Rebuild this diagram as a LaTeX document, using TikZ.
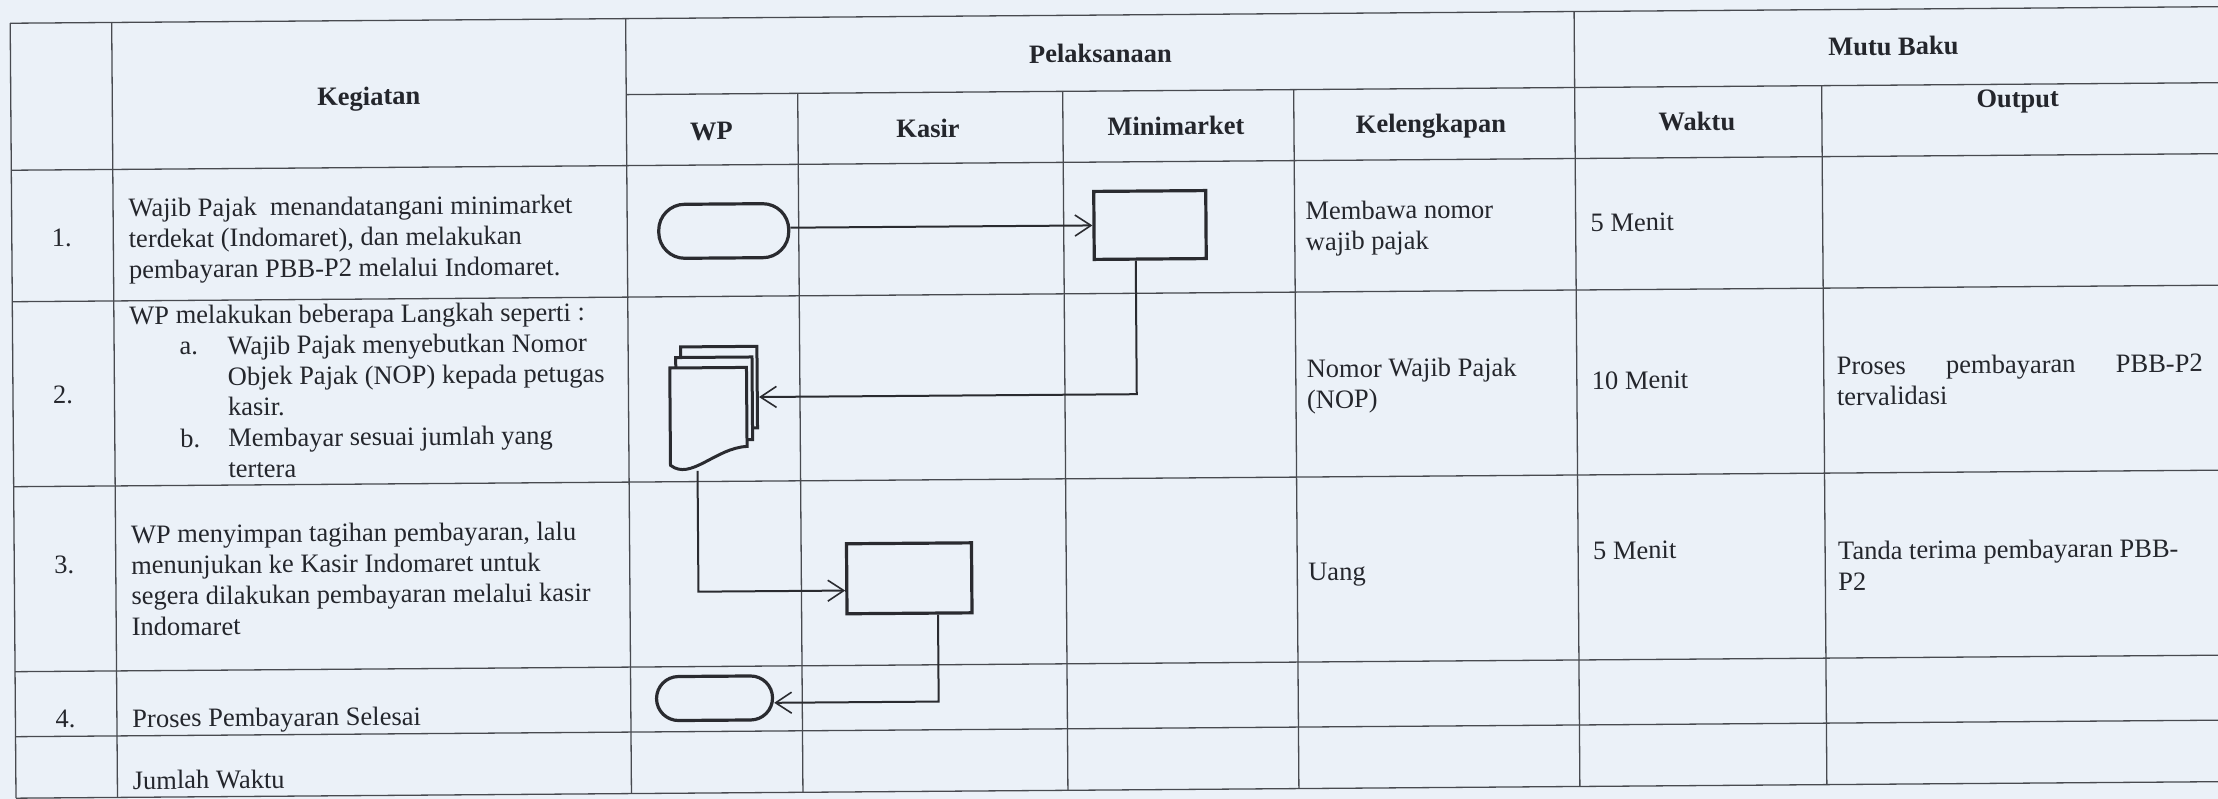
\documentclass[tikz,border=0pt]{standalone}
\usepackage{fontspec}
\setmainfont{Liberation Serif}
\usetikzlibrary{arrows.meta,calc}
\definecolor{paper}{RGB}{235,241,248}
\definecolor{ink}{RGB}{36,38,44}
\definecolor{gridc}{RGB}{72,74,80}
\definecolor{strokec}{RGB}{42,43,48}
\newcommand\bodyfont{\fontsize{26.5pt}{30.8pt}\selectfont}
\newcommand\cell[1]{\parbox[t]{620pt}{\raggedright #1}}
\begin{document}
\begin{tikzpicture}[x=1pt,y=-1pt,
  gridline/.style={draw=gridc,line width=1.3pt},
  txt/.style={anchor=base west,inner sep=0pt,outer sep=0pt,font=\bodyfont,text=ink},
  num/.style={anchor=base,inner sep=0pt,font=\bodyfont,text=ink},
  hdr/.style={anchor=base,inner sep=0pt,font=\bodyfont\bfseries,text=ink},
  term/.style={draw=strokec,line width=3.2pt,inner sep=0pt},
  proc/.style={draw=strokec,line width=3.2pt,inner sep=0pt},
  docshape/.style={draw=strokec,fill=paper,line width=3pt,line join=miter},
  flow/.style={draw=strokec,line width=2pt,-{Straight Barb[length=16pt,width=21pt,line width=1.6pt]}}]
\useasboundingbox (0,0) rectangle (2218,799);
\fill[paper] (0,0) rectangle (2218,799);
\begin{scope}
\clip (0,0) rectangle (2218,799);
\begin{scope}[transform canvas={rotate around={0.43:(1109,400)}}]
% grid
\draw[gridline] (13,15) -- (2240,15);
\draw[gridline] (628.5,91) -- (2240,91);
\draw[gridline] (13,162) -- (2240,162);
\foreach \yy in {293.5,478.5,663.5,728.5,790}{\draw[gridline] (13,\yy) -- (2240,\yy);}
\foreach \xx in {13,114.5,628.5,1577}{\draw[gridline] (\xx,15) -- (\xx,790);}
\foreach \xx in {800,1065,1296,1824}{\draw[gridline] (\xx,91) -- (\xx,790);}
% headers
\node[hdr] (hkeg) at (371,99.5) {Kegiatan};
\node[hdr] (hpel) at (1103,62.5) {Pelaksanaan};
\node[hdr] (hmutu) at (1896,61) {Mutu Baku};
\node[hdr] (hwp) at (713.5,137) {WP};
\node[hdr] (hkas) at (930,136) {Kasir};
\node[hdr] (hmin) at (1178,135.5) {Minimarket};
\node[hdr] (hkel) at (1433,135) {Kelengkapan};
\node[hdr] (hwak) at (1699,135) {Waktu};
\node[hdr] (hout) at (2020,114) {Output};
% numbers
\node[num] (n1) at (63,239) {1.};
\node[num] (n2) at (63,396) {2.};
\node[num] (n3) at (63,566) {3.};
\node[num] (n4) at (63,720) {4.};
% kegiatan
\node[txt] (k1) at (130,209.5) {\cell{Wajib Pajak\ \ menandatangani minimarket\\terdekat (Indomaret), dan melakukan\\pembayaran PBB-P2 melalui Indomaret.}};
\node[txt] (k2) at (130,317) {\cell{WP melakukan beberapa Langkah seperti :\\
\hspace*{50pt}\makebox[48pt][l]{a.}Wajib Pajak menyebutkan Nomor\\
\hspace*{98pt}Objek Pajak (NOP) kepada petugas\\
\hspace*{98pt}kasir.\\
\hspace*{50pt}\makebox[48pt][l]{b.}Membayar sesuai jumlah yang\\
\hspace*{98pt}tertera}};
\node[txt] (k3) at (130,536) {\cell{WP menyimpan tagihan pembayaran, lalu\\menunjukan ke Kasir Indomaret untuk\\segera dilakukan pembayaran melalui kasir\\Indomaret}};
\node[txt] (k4) at (130,720) {Proses Pembayaran Selesai};
\node[txt] (k5) at (130,782) {Jumlah Waktu};
% kelengkapan
\node[txt] (l1) at (1307,221) {\cell{Membawa nomor\\wajib pajak}};
\node[txt] (l2) at (1307,379) {\cell{Nomor Wajib Pajak\\(NOP)}};
\node[txt] (l3) at (1307,582) {Uang};
% waktu
\node[txt] (w1) at (1592,235) {5 Menit};
\node[txt] (w2) at (1592,393) {10 Menit};
\node[txt] (w3) at (1592,563) {5 Menit};
% output
\node[txt] (o2) at (1837,380) {\cell{\makebox[366pt][s]{Proses pembayaran PBB-P2}\\tervalidasi}};
\node[txt] (o3) at (1837,565) {\cell{Tanda terima pembayaran PBB-\\P2}};
% flowchart shapes
\node[term,rounded corners=26pt,minimum width=130pt,minimum height=54pt] (t1) at (725,228.1) {};
\node[proc,minimum width=112pt,minimum height=68pt] (b1) at (1151.3,225.3) {};
\draw[docshape] (681,343.7) rectangle (757.3,425.3);
\draw[docshape] (676,354.3) rectangle (752.3,437);
\draw[docshape] (670,364.7) -- (746.7,364.7) -- (746.7,443.7) .. controls (715,445) and (690,478) .. (670,462) -- cycle;
\node[inner sep=0pt,outer sep=0pt,minimum width=89pt,minimum height=124pt] (doc) at (714.5,405.7) {};
\node[proc,minimum width=125pt,minimum height=70pt] (b2) at (907.9,576.8) {};
\node[term,rounded corners=22pt,minimum width=116pt,minimum height=44pt] (t2) at (712.3,695.3) {};
% connectors
\draw[flow] (t1.east |- b1.west) -- (b1.west);
\draw[flow] ($(b1.south)+(-14.5,0)$) |- ($(doc.east)+(0,-11.3)$);
\draw[flow] ($(doc.south west)+(27,0)$) |- ($(b2.west)+(0,11.8)$);
\draw[flow] ($(b2.south)+(28.5,0)$) |- ($(t2.east)+(0,5)$);
\end{scope}
\end{scope}
\end{tikzpicture}
\end{document}
